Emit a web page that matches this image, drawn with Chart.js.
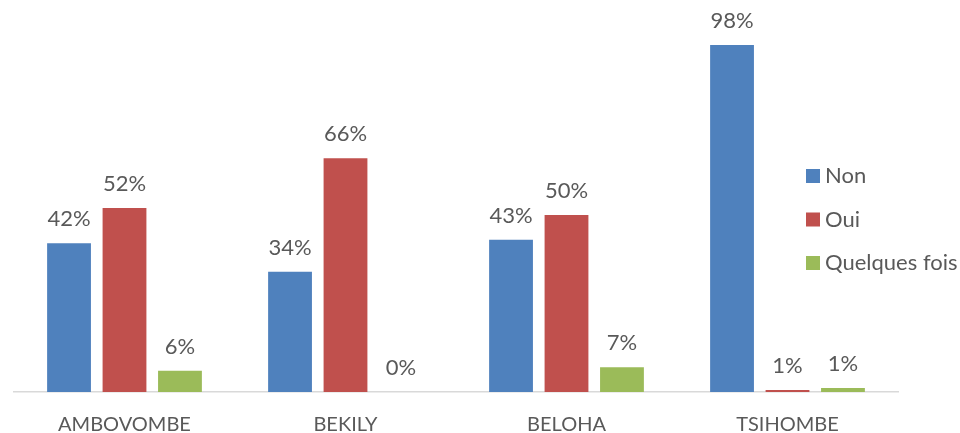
<!DOCTYPE html>
<html>
<head>
<meta charset="utf-8">
<script src="https://cdn.jsdelivr.net/npm/chart.js@4"></script>
<style>
  html, body { margin: 0; padding: 0; background: #fff; }
  #wrap { width: 960px; height: 433px; }
</style>
</head>
<body>
<div id="wrap"><canvas id="canvas" width="960" height="433"></canvas></div>
<script>
// data (percent)
const districts = ['AMBOVOMBE', 'BEKILY', 'BELOHA', 'TSIHOMBE'];
const seriesNames = ['Non', 'Oui', 'Quelques fois'];
const nonValues = [42, 34, 43, 98];
const ouiValues = [52, 66, 50, 0.6];
const parfoisValues = [6, 0, 7, 1.1];
const seriesColors = ['#4F81BD', '#C0504D', '#9BBB59'];

const textColor = '#595959';
const fontFamily = 'Lato, "Open Sans", sans-serif';

// value labels above each bar
const valueLabels = {
    id: 'valueLabels',
    afterDatasetsDraw(chart) {
        const ctx = chart.ctx;
        ctx.save();
        ctx.font = '22px ' + fontFamily;
        ctx.fillStyle = textColor;
        ctx.textAlign = 'center';
        ctx.textBaseline = 'middle';
        chart.data.datasets.forEach(function (ds, i) {
            const meta = chart.getDatasetMeta(i);
            meta.data.forEach(function (bar, j) {
                ctx.fillText(Math.round(ds.data[j]) + '%', bar.x, bar.y - 24);
            });
        });
        ctx.restore();
    }
};

// legend sits inside the plot on the right, like the original
const sideLegend = {
    id: 'sideLegend',
    afterDraw(chart) {
        const ctx = chart.ctx;
        ctx.save();
        ctx.font = '22px ' + fontFamily;
        ctx.textBaseline = 'middle';
        ctx.textAlign = 'left';
        chart.data.datasets.forEach(function (ds, i) {
            const y = 176 + i * 43.5;
            ctx.fillStyle = ds.backgroundColor;
            ctx.fillRect(806, y - 7, 14, 14);
            ctx.fillStyle = textColor;
            ctx.fillText(ds.label, 825, y);
        });
        ctx.restore();
    }
};

const ctx = document.getElementById('canvas').getContext('2d');
const myChart = new Chart(ctx, {
    type: 'bar',
    data: {
        labels: districts,
        datasets: [
            { label: seriesNames[0], data: nonValues, backgroundColor: seriesColors[0] },
            { label: seriesNames[1], data: ouiValues, backgroundColor: seriesColors[1] },
            { label: seriesNames[2], data: parfoisValues, backgroundColor: seriesColors[2] }
        ]
    },
    options: {
        responsive: false,
        animation: false,
        devicePixelRatio: 1,
        categoryPercentage: 0.753,
        barPercentage: 0.79,
        layout: {
            padding: { left: 14, right: 62, top: 38, bottom: 0 }
        },
        plugins: {
            legend: { display: false },
            tooltip: { enabled: false }
        },
        scales: {
            x: {
                grid: { display: false, drawTicks: false },
                border: { color: '#D9D9D9', width: 1.5 },
                ticks: {
                    color: textColor,
                    padding: 23,
                    font: { family: fontFamily, size: 20, lineHeight: 1 }
                },
                afterFit: function (scale) {
                    scale.height = 41;
                }
            },
            y: {
                display: false,
                min: 0,
                max: 100
            }
        }
    },
    plugins: [valueLabels, sideLegend]
});
</script>
</body>
</html>
